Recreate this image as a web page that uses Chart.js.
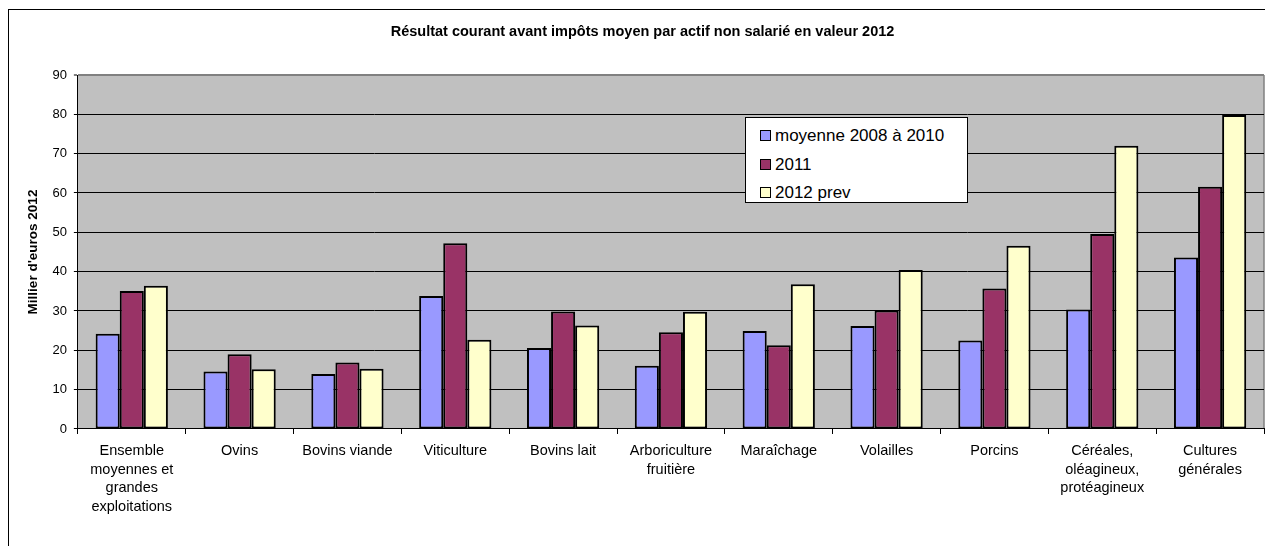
<!DOCTYPE html>
<html>
<head>
<meta charset="utf-8">
<script src="https://cdn.jsdelivr.net/npm/chart.js@4/dist/chart.umd.min.js"></script>
<style>
  html, body { margin: 0; padding: 0; background: #fff; overflow: hidden; }
  #wrap { position: relative; width: 1265px; height: 546px; }
  #frame { position: absolute; left: 8px; top: 9px; width: 1270px; height: 560px; border: 1px solid #000; box-sizing: border-box; }
  #chart { position: absolute; left: 0; top: 0; }
  #legend {
    position: absolute; left: 745px; top: 117px; width: 223px; height: 86px;
    background: #fff; border: 1px solid #000; box-sizing: border-box;
    font-family: "Liberation Sans", Arial, sans-serif; font-size: 17px; color: #000;
    padding-top: 4px;
  }
  #legend div { height: 28.5px; line-height: 28px; padding-left: 14px; white-space: nowrap; }
  #legend span { display: inline-block; width: 9px; height: 9px; border: 1px solid #000; margin-right: 4px; vertical-align: 0px; }
</style>
</head>
<body>
<div id="wrap">
  <div id="frame"></div>
  <canvas id="chart" width="1265" height="546"></canvas>
  <div id="legend"></div>
</div>
<script>
// values (millier d'euros 2012)
var categories = [
  ['Ensemble', 'moyennes et', 'grandes', 'exploitations'],
  'Ovins',
  'Bovins viande',
  'Viticulture',
  'Bovins lait',
  ['Arboriculture', 'fruitière'],
  'Maraîchage',
  'Volailles',
  'Porcins',
  ['Céréales,', 'oléagineux,', 'protéagineux'],
  ['Cultures', 'générales']
];
var seriesNames = ['moyenne 2008 à 2010', '2011', '2012 prev'];
var moyenne2008_2010 = [24.2, 14.6, 14.0, 33.8, 20.6, 16.1, 24.9, 26.2, 22.5, 30.4, 43.6];
var annee2011        = [35.1, 19.0, 16.9, 47.2, 29.9, 24.6, 21.3, 30.1, 35.7, 49.6, 61.6];
var prev2012         = [36.4, 15.2, 15.3, 22.7, 26.3, 29.8, 36.8, 40.4, 46.6, 72.0, 79.8];
var colors = ['#9999FF', '#993366', '#FFFFCC'];

var FONT = '"Liberation Sans", Arial, sans-serif';

// grey plot area like the Excel original
var plotBg = {
  id: 'plotBg',
  beforeDraw: function(chart) {
    var a = chart.chartArea, ctx = chart.ctx;
    ctx.save();
    ctx.fillStyle = '#C0C0C0';
    ctx.fillRect(a.left, a.top, a.right - a.left, a.bottom - a.top);
    ctx.strokeStyle = '#808080';
    ctx.lineWidth = 1.5;
    ctx.beginPath();
    ctx.moveTo(a.right, a.top);
    ctx.lineTo(a.right, a.bottom);
    ctx.stroke();
    ctx.restore();
  }
};

var series = [moyenne2008_2010, annee2011, prev2012];

var chart = new Chart(document.getElementById('chart').getContext('2d'), {
  type: 'bar',
  data: {
    labels: categories,
    datasets: series.map(function(vals, i) {
      return {
        label: seriesNames[i],
        data: vals,
        backgroundColor: colors[i],
        borderColor: '#000',
        borderWidth: 2,
        borderSkipped: false,
        barPercentage: 1,
        categoryPercentage: 0.67
      };
    })
  },
  options: {
    responsive: false,
    animation: false,
    layout: { padding: { left: 21, right: 1, top: 0, bottom: 22 } },
    plugins: {
      legend: { display: false },
      tooltip: { enabled: false },
      title: {
        display: true,
        text: 'Résultat courant avant impôts moyen par actif non salarié en valeur 2012',
        color: '#000',
        font: { family: FONT, size: 14.5, weight: 'bold', lineHeight: 1.2 },
        padding: { top: 23.3, bottom: 34.3 }
      }
    },
    scales: {
      x: {
        grid: { drawOnChartArea: false, drawTicks: true, tickLength: 5, color: '#000', offset: true },
        border: { color: '#000', width: 1 },
        ticks: {
          color: '#000', padding: 8, maxRotation: 0, autoSkip: false,
          font: { family: FONT, size: 14.5, lineHeight: 1.276 }
        }
      },
      y: {
        min: 0, max: 90,
        grid: {
          color: function(c) { return c.tick && c.tick.value === 90 ? '#808080' : '#000'; },
          lineWidth: function(c) { return c.tick && c.tick.value === 90 ? 2 : 1; },
          tickLength: 4
        },
        border: { color: '#000', width: 1 },
        ticks: {
          stepSize: 10, color: '#000', padding: 7,
          font: { family: FONT, size: 13 }
        },
        title: {
          display: true,
          text: "Millier d'euros 2012",
          color: '#000',
          font: { family: FONT, size: 13.5, weight: 'bold', lineHeight: 1.2 },
          padding: { top: 4, bottom: 4.2 }
        }
      }
    }
  },
  plugins: [plotBg]
});

// legend box built from the chart's datasets
var leg = document.getElementById('legend');
chart.data.datasets.forEach(function(ds) {
  var row = document.createElement('div');
  var sw = document.createElement('span');
  sw.style.background = ds.backgroundColor;
  row.appendChild(sw);
  row.appendChild(document.createTextNode(ds.label));
  leg.appendChild(row);
});
</script>
</body>
</html>
